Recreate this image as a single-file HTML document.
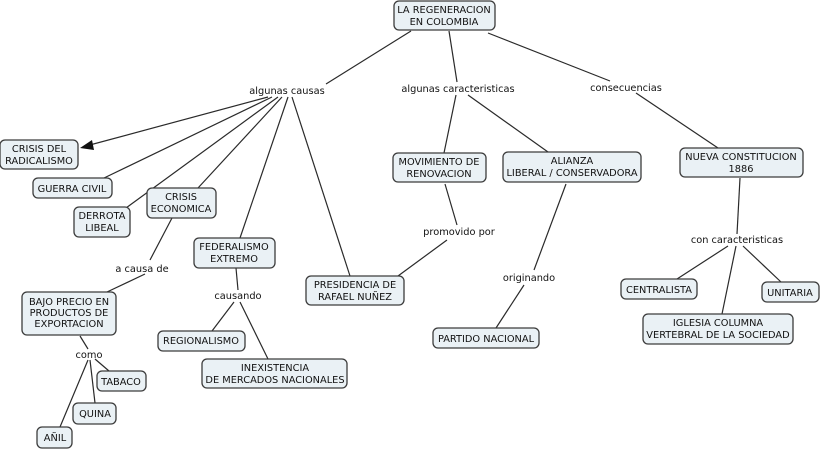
<!DOCTYPE html>
<html><head><meta charset="utf-8"><style>
html,body{margin:0;padding:0;background:#fff;}
svg{display:block;font-family:"DejaVu Sans","Liberation Sans",sans-serif;font-size:9.8px;}
.b{fill:#eaf1f5;stroke:#3c3c3c;stroke-width:1.3;}
.l{stroke:#2a2a2a;stroke-width:1.2;fill:none;}
text{fill:#111;text-anchor:middle;}
</style></head><body>
<svg width="820" height="450" viewBox="0 0 820 450">
<g class="l">
<line x1="411" y1="31" x2="326" y2="84"/>
<line x1="449" y1="31" x2="457" y2="82"/>
<line x1="488" y1="33" x2="610" y2="81"/>
<line x1="636" y1="93" x2="718" y2="148"/>
<line x1="268" y1="97" x2="86" y2="146"/>
<line x1="272" y1="97" x2="104" y2="178"/>
<line x1="278" y1="97" x2="126" y2="208"/>
<line x1="282" y1="97" x2="198" y2="188"/>
<line x1="288" y1="97" x2="240" y2="238"/>
<line x1="292" y1="97" x2="350" y2="276"/>
<line x1="172" y1="218" x2="150" y2="260"/>
<line x1="145" y1="274" x2="107" y2="292"/>
<line x1="80" y1="336" x2="88" y2="349"/>
<line x1="95" y1="359" x2="109" y2="371"/>
<line x1="90" y1="360" x2="95" y2="403"/>
<line x1="88" y1="360" x2="60" y2="427"/>
<line x1="236" y1="268" x2="238" y2="290"/>
<line x1="234" y1="302" x2="212" y2="331"/>
<line x1="240" y1="302" x2="268" y2="359"/>
<line x1="456" y1="95" x2="444" y2="153"/>
<line x1="468" y1="95" x2="548" y2="152"/>
<line x1="445" y1="184" x2="457" y2="225"/>
<line x1="447" y1="240" x2="398" y2="276"/>
<line x1="566" y1="184" x2="534" y2="270"/>
<line x1="524" y1="285" x2="496" y2="328"/>
<line x1="740" y1="178" x2="737" y2="234"/>
<line x1="728" y1="246" x2="677" y2="279"/>
<line x1="736" y1="246" x2="722" y2="314"/>
<line x1="743" y1="246" x2="781" y2="282"/>
</g>
<polygon points="80,148 92,140 94,150" fill="#111"/>
<g>
<rect class="b" x="394" y="1" width="101" height="29" rx="5"/><text x="444" y="13">LA REGENERACION</text><text x="444" y="25">EN COLOMBIA</text>
<rect class="b" x="0" y="140" width="78" height="29" rx="5"/><text x="39" y="152">CRISIS DEL</text><text x="39" y="164">RADICALISMO</text>
<rect class="b" x="33" y="178" width="79" height="20" rx="5"/><text x="72" y="192">GUERRA CIVIL</text>
<rect class="b" x="74" y="207" width="56" height="30" rx="5"/><text x="102" y="219">DERROTA</text><text x="102" y="231">LIBEAL</text>
<rect class="b" x="147" y="188" width="69" height="30" rx="5"/><text x="181" y="200">CRISIS</text><text x="181" y="212">ECONOMICA</text>
<rect class="b" x="194" y="238" width="81" height="30" rx="5"/><text x="234" y="250">FEDERALISMO</text><text x="234" y="262">EXTREMO</text>
<rect class="b" x="22" y="292" width="94" height="43" rx="5"/><text x="69" y="305">BAJO PRECIO EN</text><text x="69" y="316">PRODUCTOS DE</text><text x="69" y="327">EXPORTACION</text>
<rect class="b" x="97" y="371" width="49" height="20" rx="5"/><text x="121" y="385">TABACO</text>
<rect class="b" x="73" y="403" width="43" height="21" rx="5"/><text x="95" y="417">QUINA</text>
<rect class="b" x="37" y="427" width="35" height="21" rx="5"/><text x="55" y="441">AÑIL</text>
<rect class="b" x="158" y="331" width="87" height="20" rx="5"/><text x="201" y="344">REGIONALISMO</text>
<rect class="b" x="202" y="359" width="145" height="29" rx="5"/><text x="275" y="371">INEXISTENCIA</text><text x="275" y="383">DE MERCADOS NACIONALES</text>
<rect class="b" x="306" y="276" width="98" height="29" rx="5"/><text x="355" y="288">PRESIDENCIA DE</text><text x="355" y="300">RAFAEL NUÑEZ</text>
<rect class="b" x="393" y="153" width="93" height="29" rx="5"/><text x="439" y="165">MOVIMIENTO DE</text><text x="439" y="177">RENOVACION</text>
<rect class="b" x="503" y="152" width="138" height="30" rx="5"/><text x="572" y="164">ALIANZA</text><text x="572" y="176">LIBERAL / CONSERVADORA</text>
<rect class="b" x="433" y="328" width="106" height="20" rx="5"/><text x="486" y="342">PARTIDO NACIONAL</text>
<rect class="b" x="680" y="148" width="123" height="29" rx="5"/><text x="741" y="160">NUEVA CONSTITUCION</text><text x="741" y="172">1886</text>
<rect class="b" x="621" y="279" width="76" height="20" rx="5"/><text x="659" y="293">CENTRALISTA</text>
<rect class="b" x="762" y="282" width="57" height="20" rx="5"/><text x="790" y="296">UNITARIA</text>
<rect class="b" x="643" y="314" width="150" height="30" rx="5"/><text x="718" y="326">IGLESIA COLUMNA</text><text x="718" y="338">VERTEBRAL DE LA SOCIEDAD</text>
</g>
<g>
<text x="287" y="94">algunas causas</text>
<text x="458" y="92">algunas caracteristicas</text>
<text x="626" y="91">consecuencias</text>
<text x="142" y="272">a causa de</text>
<text x="238" y="299">causando</text>
<text x="89" y="358">como</text>
<text x="459" y="235">promovido por</text>
<text x="529" y="281">originando</text>
<text x="737" y="243">con caracteristicas</text>
</g>
</svg>
</body></html>
